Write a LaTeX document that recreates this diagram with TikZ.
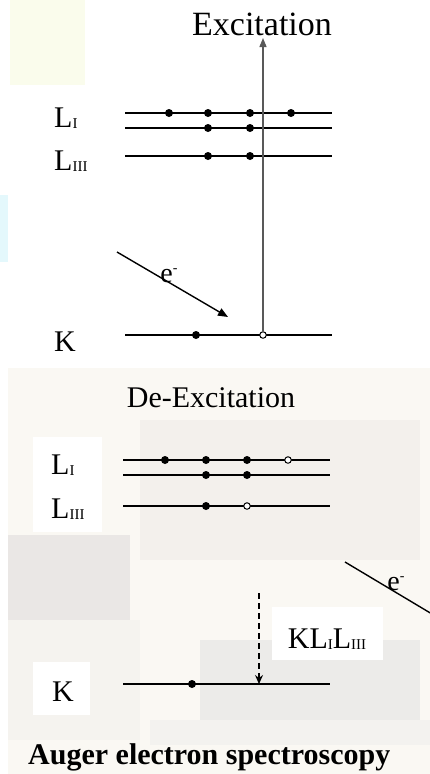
\documentclass[tikz,border=0pt]{standalone}
\usepackage{fontspec}
\setmainfont{Liberation Serif}
\usetikzlibrary{arrows.meta}
\newcommand{\subrm}[1]{\raisebox{-1.5pt}{\fontsize{15}{15}\selectfont #1}}
\begin{document}
\begin{tikzpicture}[x=1pt,y=-1pt,
  level/.style={line width=1.5pt, black},
  edot/.style={circle, fill=black, inner sep=0pt, minimum size=8pt},
  hole/.style={circle, draw=black, fill=white, line width=1pt, inner sep=0pt, minimum size=6.5pt},
  lbl/.style={font=\fontsize{30}{32}\selectfont, inner sep=0pt},
  wbox/.style={fill=white, draw=none},
  bgtone/.style={draw=none},
]
% ---------- background ----------
\useasboundingbox (0,0) rectangle (430,774);
\fill[white] (0,0) rectangle (430,774);
\fill[bgtone, fill={rgb,255:red,250;green,252;blue,236}] (10,0) rectangle (85,85);
\fill[bgtone, fill={rgb,255:red,228;green,248;blue,252}] (0,195) rectangle (8,262);
\fill[bgtone, fill={rgb,255:red,250;green,248;blue,243}] (8,368) rectangle (430,774);
\fill[bgtone, fill={rgb,255:red,243;green,240;blue,236}] (140,420) rectangle (420,560);
\fill[bgtone, fill={rgb,255:red,234;green,231;blue,229}] (8,535) rectangle (130,620);
\fill[bgtone, fill={rgb,255:red,245;green,243;blue,239}] (8,620) rectangle (140,740);
\fill[bgtone, fill={rgb,255:red,236;green,235;blue,233}] (200,640) rectangle (420,720);
\fill[bgtone, fill={rgb,255:red,243;green,242;blue,239}] (150,720) rectangle (430,745);

% ---------- Excitation (top) ----------
\node[lbl, font=\fontsize{34}{36}\selectfont] (exc) at (262,24) {Excitation};

\coordinate (l1a) at (125,113); \coordinate (l1b) at (332,113);
\coordinate (l2a) at (125,128); \coordinate (l2b) at (332,128);
\coordinate (l3a) at (125,156); \coordinate (l3b) at (332,156);
\coordinate (ka)  at (125,335); \coordinate (kb)  at (332,335);
\draw[level] (l1a) -- (l1b);
\draw[level] (l2a) -- (l2b);
\draw[level] (l3a) -- (l3b);
\draw[level] (ka) -- (kb);

\node[lbl, anchor=base west] (tLI)   at (54,127) {L\subrm{I}};
\node[lbl, anchor=base west] (tLIII) at (54,170) {L\subrm{III}};
\node[lbl, anchor=base west] (tK)    at (54,351) {K};

\coordinate (top) at (263,38);
\node[hole] (khole) at (263,335) {};
\draw[line width=1.4pt, gray!70!black, -{Triangle[length=9pt,width=7pt]}] (khole) -- (top);

\node[edot] (a1) at (169,113) {};
\node[edot] (a2) at (208,113) {};
\node[edot] (a3) at (250,113) {};
\node[edot] (a4) at (291,113) {};
\node[edot] (a5) at (208,128) {};
\node[edot] (a6) at (250,128) {};
\node[edot] (a7) at (208,156) {};
\node[edot] (a8) at (250,156) {};
\node[edot] (a9) at (196,335) {};

\coordinate (ein1) at (117,252);
\coordinate (ein2) at (228,317);
\draw[line width=1.4pt, -{Triangle[length=10pt,width=8pt]}] (ein1) -- (ein2);
\node[lbl, font=\fontsize{28}{30}\selectfont] (em1) at (169,276) {e\raisebox{10pt}{\fontsize{14}{14}\selectfont -}};

% ---------- De-Excitation (bottom) ----------
\node[lbl] (dexc) at (211,398) {De-Excitation};

\fill[wbox] (33,437) rectangle (102,532);
\fill[wbox] (33,662) rectangle (90,715);
\fill[wbox] (272,607) rectangle (383,660);

\coordinate (m1a) at (123,460); \coordinate (m1b) at (330,460);
\coordinate (m2a) at (123,475); \coordinate (m2b) at (330,475);
\coordinate (m3a) at (123,506); \coordinate (m3b) at (330,506);
\coordinate (mka) at (123,684); \coordinate (mkb) at (330,684);
\draw[level] (m1a) -- (m1b);
\draw[level] (m2a) -- (m2b);
\draw[level] (m3a) -- (m3b);
\draw[level] (mka) -- (mkb);

\node[lbl, anchor=base west] (bLI)   at (51,474) {L\subrm{I}};
\node[lbl, anchor=base west] (bLIII) at (51,518) {L\subrm{III}};
\node[lbl, anchor=base west] (bK)    at (52,701) {K};

\node[edot] (b1) at (165,460) {};
\node[edot] (b2) at (206,460) {};
\node[edot] (b3) at (247,460) {};
\node[hole] (b4) at (288,460) {};
\node[edot] (b5) at (206,475) {};
\node[edot] (b6) at (247,475) {};
\node[edot] (b7) at (206,506) {};
\node[hole] (b8) at (247,506) {};
\node[edot] (b9) at (192,684) {};

\coordinate (dtop) at (259,593);
\coordinate (dbot) at (259,684);
\draw[line width=1.2pt, dashed, dash pattern=on 6pt off 4pt, -{Stealth[length=9pt,width=8pt]}] (dtop) -- (dbot);

\node[lbl, anchor=base] (kll) at (327,648) {KL\subrm{I}L\subrm{III}};

\coordinate (eout1) at (345,562);
\coordinate (eout2) at (432,614);
\draw[line width=1.4pt] (eout1) -- (eout2);
\node[lbl, font=\fontsize{28}{30}\selectfont] (em2) at (396,584) {e\raisebox{10pt}{\fontsize{14}{14}\selectfont -}};

\node[lbl, font=\bfseries\fontsize{30}{32}\selectfont, anchor=base west] (auger) at (28,764) {Auger electron spectroscopy};
\end{tikzpicture}
\end{document}
